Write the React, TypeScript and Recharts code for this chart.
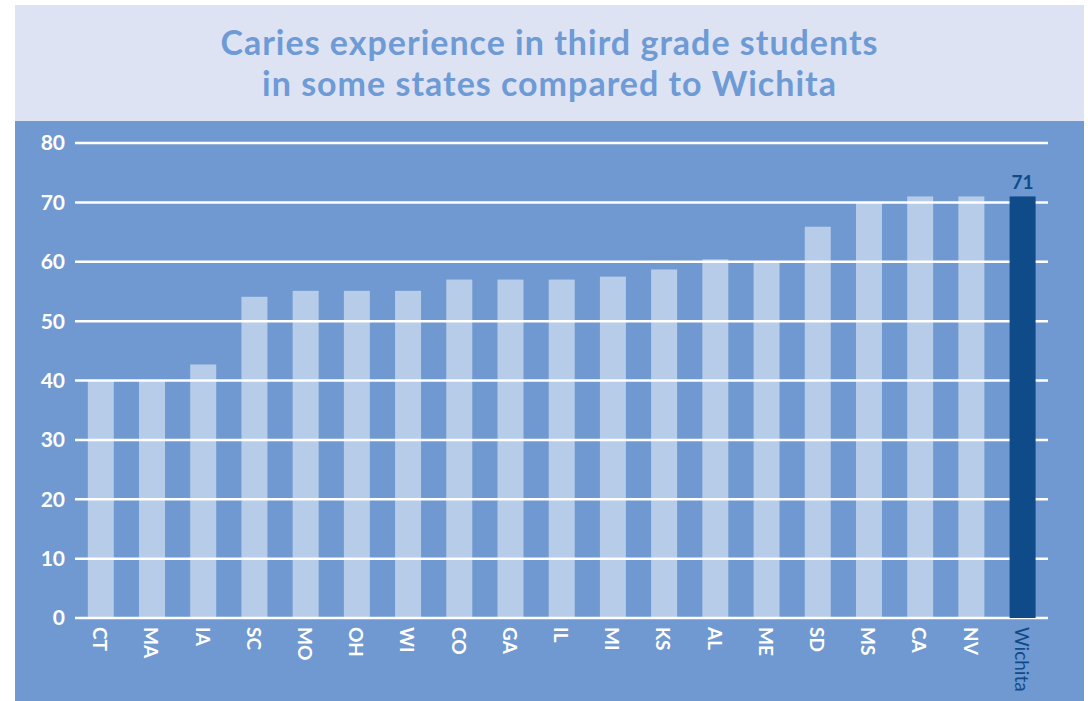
import { BarChart, Bar, XAxis, YAxis, CartesianGrid } from 'recharts';

const states = ['CT', 'MA', 'IA', 'SC', 'MO', 'OH', 'WI', 'CO', 'GA', 'IL', 'MI', 'KS', 'AL', 'ME', 'SD', 'MS', 'CA', 'NV', 'Wichita'];
const caries = [40, 40, 42.7, 54.1, 55.1, 55.1, 55.1, 57, 57, 57, 57.5, 58.7, 60.4, 59.9, 65.9, 70, 71, 71, 71];
const yTicks = [0, 10, 20, 30, 40, 50, 60, 70, 80];
const highlight = 'Wichita';

const rows = states.map((s, i) => ({ name: s, value: caries[i] }));

const BG = '#6f99d0';
const DARK = '#0f4b89';
const FONT = 'Lato, "Open Sans", sans-serif';

function StateTick(props: any) {
  const { x, y, payload } = props;
  const isHi = payload.value === highlight;
  return (
    <text
      transform={`translate(${x},${y + 1}) rotate(90)`}
      textAnchor="start"
      dominantBaseline="central"
      fill={isHi ? DARK : '#ffffff'}
      fontSize={19}
      fontWeight={isHi ? 400 : 700}
      fontFamily={FONT}
    >
      {payload.value}
    </text>
  );
}

// bar rect comes from the library's computed geometry; only colour depends on the category
function StateBar(props: any) {
  const { x, y, width, height, payload } = props;
  const isHi = payload && payload.name === highlight;
  return (
    <rect x={x} y={y} width={width} height={height} fill={isHi ? DARK : '#ffffff'} fillOpacity={isHi ? 1 : 0.5} />
  );
}

function ValueLabel(props: any) {
  const { x, y, width, value, index } = props;
  if (states[index] !== highlight) return null;
  return (
    <text x={x + width / 2} y={y - 7} textAnchor="middle" fill={DARK} fontSize={19} fontWeight={700} fontFamily={FONT}>
      {value}
    </text>
  );
}

export default function App() {
  return (
    <div style={{ position: 'absolute', left: 0, top: 0, width: 1088, height: 701, background: '#fff', overflow: 'hidden' }}>
      <div
        style={{
          position: 'absolute', left: 15, top: 5, width: 1069, height: 116, background: '#dde3f3',
          color: '#6e9ad5', fontFamily: FONT, fontWeight: 700, fontSize: 34, lineHeight: '41px',
          letterSpacing: 1, textAlign: 'center', paddingTop: 16, boxSizing: 'border-box',
        }}
      >
        <div>Caries experience in third grade students</div>
        <div>in some states compared to Wichita</div>
      </div>
      <div style={{ position: 'absolute', left: 15, top: 121, width: 1069, height: 580, background: BG }}>
        <BarChart width={1069} height={580} data={rows} margin={{ top: 22, right: 36, bottom: 0, left: 0 }} barCategoryGap="25%">
          <CartesianGrid vertical={false} stroke="#ffffff" strokeWidth={2.5} />
          <XAxis dataKey="name" interval={0} height={83} axisLine={false} tickLine={false} tick={<StateTick />} />
          <YAxis
            width={60}
            domain={[0, 80]}
            ticks={yTicks}
            axisLine={false}
            tickLine={false}
            tickSize={0}
            tickMargin={10}
            tick={{ fill: '#ffffff', fontSize: 21, fontWeight: 700, fontFamily: FONT }}
          />
          <Bar dataKey="value" isAnimationActive={false} shape={StateBar} label={ValueLabel} />
        </BarChart>
      </div>
    </div>
  );
}
